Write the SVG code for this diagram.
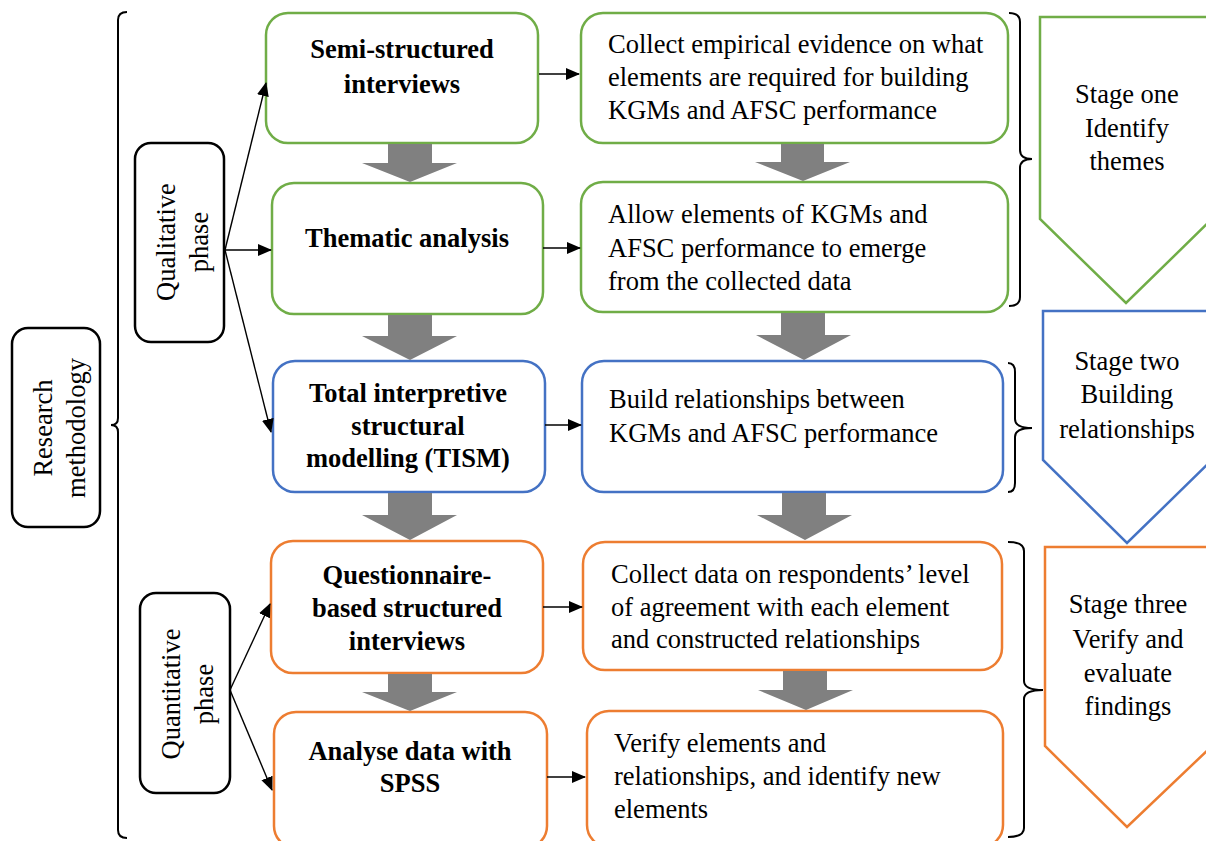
<svg xmlns="http://www.w3.org/2000/svg" width="1206" height="841" viewBox="0 0 1206 841">
<defs>
<style>
.t{font-family:"Liberation Serif","Times New Roman",serif;font-size:26.5px;fill:#000}
.b{font-weight:bold}
.c{text-anchor:middle}
.box{fill:#fff;stroke-width:2.5}
.blk{fill:#fff;stroke:#000;stroke-width:2.5}
.g{stroke:#70AD47}
.bl{stroke:#4472C4}
.o{stroke:#ED7D31}
.ln{stroke:#000;stroke-width:1.4;fill:none}
.br{stroke:#000;stroke-width:2;fill:none}
.ga{fill:#808080}
.pent{fill:#fff;stroke-width:2.5}
</style>
<marker id="ah" markerWidth="14" markerHeight="12" refX="13" refY="6" orient="auto" markerUnits="userSpaceOnUse">
<path d="M0,0 L14,6 L0,12 Z" fill="#000"/>
</marker>
</defs>

<g id="research-methodology">
<rect class="blk" x="12" y="328" width="88" height="199" rx="16"/>
<g transform="translate(52,428) rotate(-90)"><text class="t c" x="0" y="0">Research</text><text class="t c" x="0" y="33">methodology</text></g>
</g>
<g id="left-bracket"><path class="br" d="M127,12 Q118,12 118,20 V418 Q118,425 111,425 Q118,425 118,432 V830 Q118,838 127,838"/></g>

<g id="qualitative-phase">
<rect class="blk" x="135" y="143" width="89" height="199" rx="16"/>
<g transform="translate(175,242) rotate(-90)"><text class="t c" x="0" y="0">Qualitative</text><text class="t c" x="0" y="33">phase</text></g>
</g>
<g id="quantitative-phase">
<rect class="blk" x="140" y="593" width="90" height="200" rx="16"/>
<g transform="translate(180,694) rotate(-90)"><text class="t c" x="0" y="0">Quantitative</text><text class="t c" x="0" y="33">phase</text></g>
</g>

<g id="semi-structured">
<rect class="box g" x="266" y="13" width="272" height="130" rx="22"/>
<text class="t b c" x="402" y="58">Semi-structured</text>
<text class="t b c" x="402" y="93">interviews</text>
</g>
<g id="thematic">
<rect class="box g" x="272" y="183" width="271" height="131" rx="22"/>
<text class="t b c" x="407" y="247">Thematic analysis</text>
</g>
<g id="tism">
<rect class="box bl" x="273" y="361" width="272" height="131" rx="22"/>
<text class="t b c" x="408" y="402">Total interpretive</text>
<text class="t b c" x="408" y="435">structural</text>
<text class="t b c" x="408" y="467">modelling (TISM)</text>
</g>
<g id="questionnaire">
<rect class="box o" x="271" y="541" width="272" height="132" rx="22"/>
<text class="t b c" x="407" y="584">Questionnaire-</text>
<text class="t b c" x="407" y="617">based structured</text>
<text class="t b c" x="407" y="650">interviews</text>
</g>
<g id="analyse">
<rect class="box o" x="274" y="712" width="273" height="136" rx="22"/>
<text class="t b c" x="410" y="760">Analyse data with</text>
<text class="t b c" x="410" y="792">SPSS</text>
</g>

<g id="collect-evidence">
<rect class="box g" x="581" y="13" width="427" height="130" rx="22"/>
<text class="t" x="608" y="53">Collect empirical evidence on what</text>
<text class="t" x="608" y="86">elements are required for building</text>
<text class="t" x="608" y="119">KGMs and AFSC performance</text>
</g>
<g id="allow-elements">
<rect class="box g" x="581" y="182" width="427" height="130" rx="22"/>
<text class="t" x="608" y="223">Allow elements of KGMs and</text>
<text class="t" x="608" y="257">AFSC performance to emerge</text>
<text class="t" x="608" y="290">from the collected data</text>
</g>
<g id="build-relationships">
<rect class="box bl" x="582" y="361" width="421" height="131" rx="22"/>
<text class="t" x="609" y="408">Build relationships between</text>
<text class="t" x="609" y="442">KGMs and AFSC performance</text>
</g>
<g id="collect-data">
<rect class="box o" x="583" y="542" width="419" height="128" rx="22"/>
<text class="t" x="611" y="583">Collect data on respondents’ level</text>
<text class="t" x="611" y="616">of agreement with each element</text>
<text class="t" x="611" y="648">and constructed relationships</text>
</g>
<g id="verify">
<rect class="box o" x="587" y="711" width="416" height="136" rx="22"/>
<text class="t" x="614" y="752">Verify elements and</text>
<text class="t" x="614" y="785">relationships, and identify new</text>
<text class="t" x="614" y="818">elements</text>
</g>

<g id="stage-one">
<polygon class="pent g" points="1040,17 1212,17 1212,219 1126,303 1040,219"/>
<text class="t c" x="1127" y="103">Stage one</text>
<text class="t c" x="1127" y="137">Identify</text>
<text class="t c" x="1127" y="170">themes</text>
</g>
<g id="stage-two">
<polygon class="pent bl" points="1043,311 1212,311 1212,460 1127,543 1043,460"/>
<text class="t c" x="1127" y="370">Stage two</text>
<text class="t c" x="1127" y="403">Building</text>
<text class="t c" x="1127" y="438">relationships</text>
</g>
<g id="stage-three">
<polygon class="pent o" points="1045,547 1212,547 1212,746 1127,827 1045,746"/>
<text class="t c" x="1128" y="613">Stage three</text>
<text class="t c" x="1128" y="648">Verify and</text>
<text class="t c" x="1128" y="682">evaluate</text>
<text class="t c" x="1128" y="715">findings</text>
</g>

<g id="connectors">
<line class="ln" x1="225" y1="250" x2="266" y2="83" marker-end="url(#ah)"/>
<line class="ln" x1="225" y1="250" x2="271" y2="250" marker-end="url(#ah)"/>
<line class="ln" x1="225" y1="250" x2="271" y2="432" marker-end="url(#ah)"/>
<line class="ln" x1="230" y1="690" x2="270" y2="604" marker-end="url(#ah)"/>
<line class="ln" x1="230" y1="690" x2="272" y2="790" marker-end="url(#ah)"/>
<line class="ln" x1="539" y1="74" x2="579" y2="74" marker-end="url(#ah)"/>
<line class="ln" x1="543" y1="248" x2="580" y2="248" marker-end="url(#ah)"/>
<line class="ln" x1="545" y1="425" x2="581" y2="425" marker-end="url(#ah)"/>
<line class="ln" x1="543" y1="607" x2="582" y2="607" marker-end="url(#ah)"/>
<line class="ln" x1="547" y1="777" x2="585" y2="777" marker-end="url(#ah)"/>

<path class="ga" d="M388,144 H432 V163 H457 L410,182 L362,163 H388 Z"/>
<path class="ga" d="M781,144 H824 V162 H850 L803,181 L755,162 H781 Z"/>
<path class="ga" d="M388,315 H432 V336 H457 L410,360 L362,336 H388 Z"/>
<path class="ga" d="M781,313 H825 V335 H851 L804,360 L756,335 H781 Z"/>
<path class="ga" d="M388,493 H432 V515 H457 L410,540 L362,515 H388 Z"/>
<path class="ga" d="M782,493 H826 V515 H852 L805,540 L757,515 H782 Z"/>
<path class="ga" d="M388,674 H432 V692 H457 L410,711 L362,692 H388 Z"/>
<path class="ga" d="M783,671 H827 V690 H853 L806,710 L758,690 H783 Z"/>

<path class="br" d="M1009,13 Q1020,13 1020,22 V150 Q1020,159 1032,159 Q1020,159 1020,168 V297 Q1020,306 1009,306"/>
<path class="br" d="M1008,363 Q1015,363 1015,372 V419 Q1015,428 1032,428 Q1015,428 1015,437 V483 Q1015,492 1008,492"/>
<path class="br" d="M1008,542 Q1024,542 1024,551 V681 Q1024,690 1043,690 Q1024,690 1024,699 V828 Q1024,837 1008,837"/>
</g>
</svg>
